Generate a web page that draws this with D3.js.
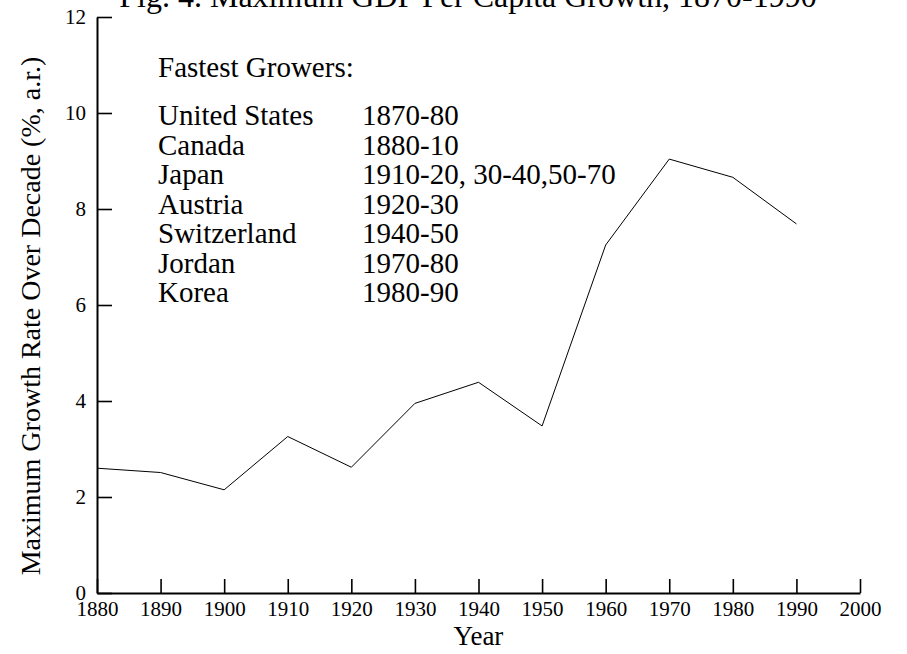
<!DOCTYPE html>
<html>
<head>
<meta charset="utf-8">
<script src="https://cdn.jsdelivr.net/npm/d3@7"></script>
<style>
  body { margin: 0; background: #fff; }
  svg { display: block; font-family: "Liberation Serif", "Times New Roman", serif; }
</style>
</head>
<body>
<div id="chart"></div>
<script>
// decades and maximum growth rates (%, a.r.)
const years = [1880, 1890, 1900, 1910, 1920, 1930, 1940, 1950, 1960, 1970, 1980, 1990];
const maxGrowth = [2.60, 2.51, 2.15, 3.26, 2.62, 3.95, 4.39, 3.48, 7.25, 9.04, 8.66, 7.69];

// legend table
const growerNames = ["United States", "Canada", "Japan", "Austria", "Switzerland", "Jordan", "Korea"];
const growerPeriods = ["1870-80", "1880-10", "1910-20, 30-40,50-70", "1920-30", "1940-50", "1970-80", "1980-90"];

const xTicks = [1880, 1890, 1900, 1910, 1920, 1930, 1940, 1950, 1960, 1970, 1980, 1990, 2000];
const yTicks = [0, 2, 4, 6, 8, 10, 12];

const W = 907, H = 654;
const margin = {top: 17, right: 47, bottom: 61, left: 97};
const width = W - margin.left - margin.right;
const height = H - margin.top - margin.bottom;

const svg = d3.select("#chart")
    .append("svg")
    .attr("width", W)
    .attr("height", H);

const g = svg.append("g")
    .attr("transform", `translate(${margin.left},${margin.top})`);

const x = d3.scaleLinear().domain([1880, 2000]).range([0, width]);
const y = d3.scaleLinear().domain([0, 12]).range([height, 0]);

// x axis, ticks pointing up
const xAxis = g.append("g")
    .attr("transform", `translate(0,${height})`)
    .call(d3.axisBottom(x).tickValues(xTicks).tickFormat(d3.format("d"))
        .tickSizeInner(-14).tickSizeOuter(0).tickPadding(8));

// y axis, ticks pointing right
const yAxis = g.append("g")
    .call(d3.axisLeft(y).tickValues(yTicks).tickFormat(d3.format("d"))
        .tickSizeInner(-15).tickSizeOuter(0).tickPadding(11));

[xAxis, yAxis].forEach(a => {
    a.select(".domain").attr("stroke", "#000").attr("stroke-width", 2);
    a.selectAll(".tick line").attr("stroke", "#000").attr("stroke-width", 1.6);
    a.selectAll(".tick text")
        .attr("fill", "#000")
        .style("font-family", "Liberation Serif")
        .style("font-size", "21px");
});

// the line
const line = d3.line()
    .x((d, i) => x(years[i]))
    .y(d => y(d));

g.append("path")
    .datum(maxGrowth)
    .attr("fill", "none")
    .attr("stroke", "#000")
    .attr("stroke-width", 1)
    .attr("d", line);

// title (partly off the top, as in the original)
svg.append("text")
    .attr("x", 468)
    .attr("y", 7)
    .attr("text-anchor", "middle")
    .style("font-size", "32px")
    .text("Fig. 4. Maximum GDP Per Capita Growth, 1870-1990");

// axis titles
svg.append("text")
    .attr("x", margin.left + width / 2)
    .attr("y", 645)
    .attr("text-anchor", "middle")
    .style("font-size", "27px")
    .text("Year");

svg.append("text")
    .attr("transform", "translate(40,316) rotate(-90)")
    .attr("text-anchor", "middle")
    .style("font-size", "28px")
    .text("Maximum Growth Rate Over Decade (%, a.r.)");

// fastest growers table
const legend = svg.append("g").style("font-size", "29px");
legend.append("text")
    .attr("x", 158)
    .attr("y", 77)
    .text("Fastest Growers:");

legend.selectAll(".name")
    .data(growerNames)
    .enter()
    .append("text")
    .attr("class", "name")
    .attr("x", 158)
    .attr("y", (d, i) => 125 + i * 29.5)
    .text(d => d);

legend.selectAll(".period")
    .data(growerPeriods)
    .enter()
    .append("text")
    .attr("class", "period")
    .attr("x", 362)
    .attr("y", (d, i) => 125 + i * 29.5)
    .text(d => d);
</script>
</body>
</html>
